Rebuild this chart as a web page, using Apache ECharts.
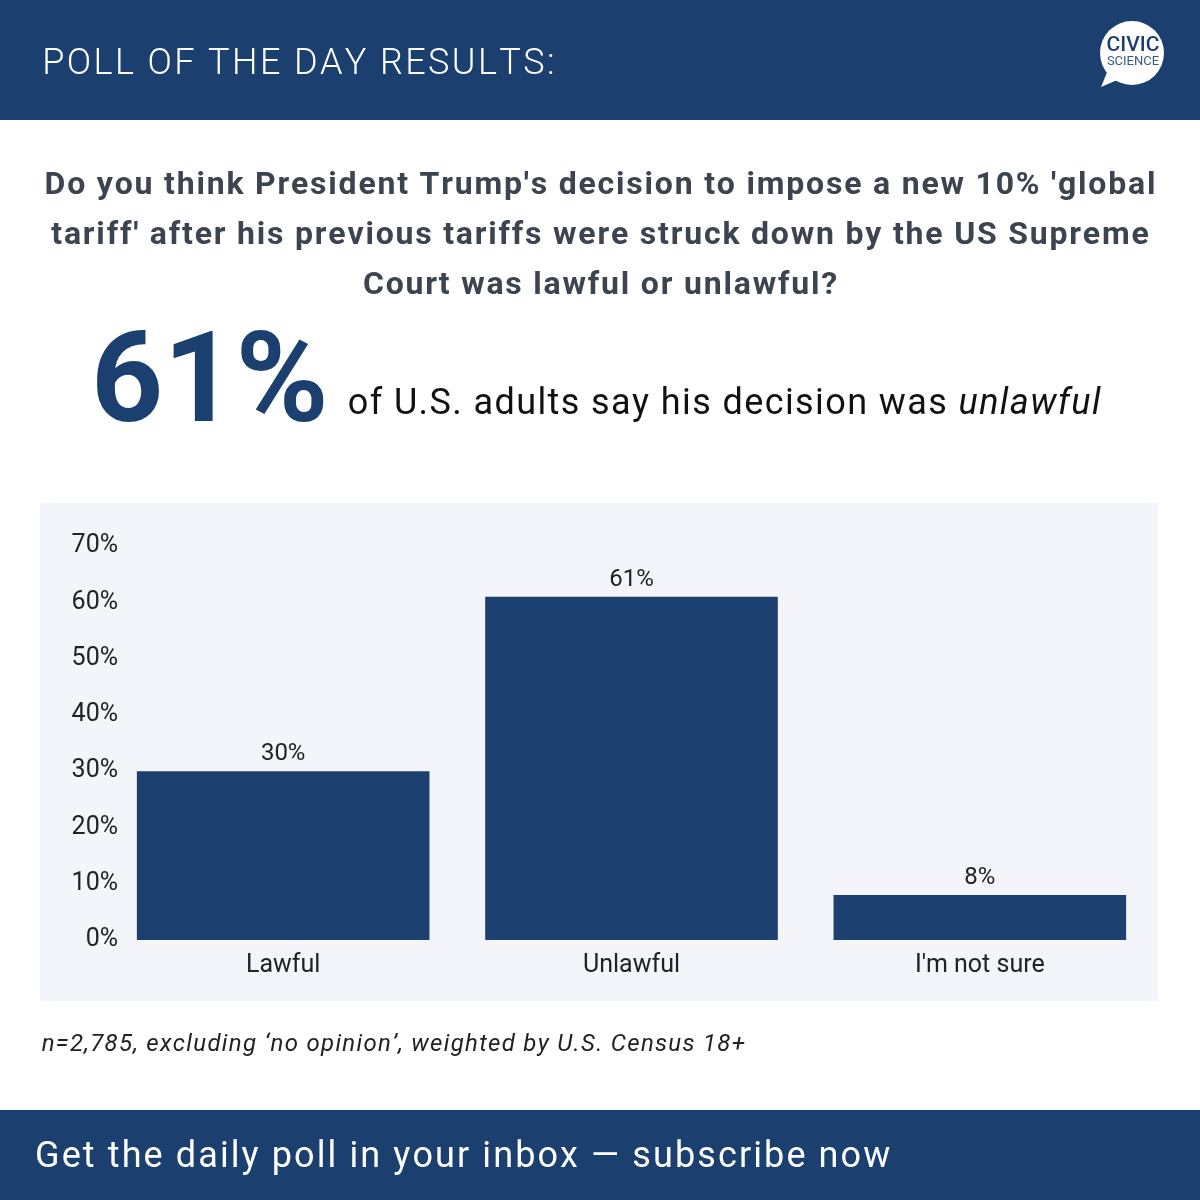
<!DOCTYPE html>
<html><head><meta charset="utf-8">
<script src="https://cdn.jsdelivr.net/npm/echarts@6/dist/echarts.min.js"></script>
<style>html,body{margin:0;padding:0;background:#fff}#c{width:1200px;height:1200px}</style>
</head><body><div id="c"></div>
<script>
const categories = ['Lawful', 'Unlawful', "I'm not sure"];
const values = [30, 61, 8];
const yTicks = [0, 10, 20, 30, 40, 50, 60, 70];
const headerTitle = 'POLL OF THE DAY RESULTS:';
const questionLines = [
  "Do you think President Trump's decision to impose a new 10% 'global",
  "tariff' after his previous tariffs were struck down by the US Supreme",
  "Court was lawful or unlawful?"
];
const headlineValue = '61%';
const headlineText = 'of U.S. adults say his decision was ';
const headlineItalic = 'unlawful';
const footnote = 'n=2,785, excluding \u2018no opinion\u2019, weighted by U.S. Census 18+';
const footerText = 'Get the daily poll in your inbox \u2014 subscribe now';

const NAVY = '#1b3f6e';
const FF = 'Roboto, "Noto Sans", sans-serif';
const F = FF;
const chart = echarts.init(document.getElementById('c'), null, {renderer: 'canvas'});

// letter-spaced text via rich tokens
function spaced(segments) {
  let s = '';
  segments.forEach(([t, name]) => { for (const ch of t) s += '{' + name + '|' + ch + '}'; });
  return s;
}
function rs(size, weight, style, color, gap) {
  return {fontSize:size, fontWeight:weight, fontStyle:style, fontFamily:FF, fill:color, color:color, padding:[0, gap/2, 0, gap/2]};
}

const graphics = [
  {type:'rect', z:-10, shape:{x:0,y:0,width:1200,height:120}, style:{fill:NAVY}},
  {type:'text', style:{text:spaced([[headerTitle,'a']]), x:41, y:65, fill:'#fff', textVerticalAlign:'middle',
    rich:{a:rs(36, 300, 'normal', '#fff', 2.4)}}},
  // logo
  {type:'polygon', shape:{points:[[1108,70],[1101,87],[1122,78]]}, style:{fill:'#fff'}},
  {type:'circle', shape:{cx:1132, cy:53, r:32}, style:{fill:'#fff'}},
  {type:'text', style:{text:'CIVIC', x:1133, y:46, font:'500 21px ' + F, fill:NAVY, textAlign:'center', textVerticalAlign:'middle'}},
  {type:'text', style:{text:'SCIENCE', x:1133, y:62, font:'13px ' + F, fill:'#3a5a87', textAlign:'center', textVerticalAlign:'middle'}},
  // chart panel
  {type:'rect', z:-10, shape:{x:40,y:503,width:1118,height:498}, style:{fill:'#f4f5fa'}},
  // headline
  {type:'text', style:{text:headlineValue, x:91, y:389, font:'bold 126px ' + F, fill:NAVY, textVerticalAlign:'middle'}},
  {type:'text', style:{text:spaced([[headlineText,'n'],[headlineItalic,'i']]), x:347, y:405, textVerticalAlign:'middle',
    rich:{n:rs(36, 'normal', 'normal', '#111', 1.4), i:rs(36, 'normal', 'italic', '#111', 1.4)}}},
  // footnote
  {type:'text', style:{text:spaced([[footnote,'f']]), x:41, y:1045, textVerticalAlign:'middle',
    rich:{f:rs(24, 'normal', 'italic', '#222', 1.3)}}},
  // footer
  {type:'rect', z:-10, shape:{x:0,y:1110,width:1200,height:90}, style:{fill:NAVY}},
  {type:'text', style:{text:spaced([[footerText,'g']]), x:34, y:1158, textVerticalAlign:'middle',
    rich:{g:rs(36, 'normal', 'normal', '#fff', 2.1)}}}
];
questionLines.forEach((t, i) => {
  graphics.push({type:'text', style:{text:spaced([[t,'q']]), x:600, y:186 + i*50, textAlign:'center', textVerticalAlign:'middle',
    rich:{q:rs(32, 'bold', 'normal', '#3c4450', 1.8)}}});
});

chart.setOption({
  animation:false,
  grid:{left:109, right:46, top:546, bottom:260, containLabel:false},
  xAxis:{type:'category', data:categories,
    axisLine:{show:false}, axisTick:{show:false},
    axisLabel:{fontSize:25, color:'#222', fontFamily:F, margin:13}},
  yAxis:{type:'value', min:0, max:70, interval:10,
    splitLine:{show:false}, axisLine:{show:false}, axisTick:{show:false},
    axisLabel:{fontSize:25, color:'#222', fontFamily:F, margin:-9, padding:[4,0,0,0], formatter:v => v + '%'}},
  series:[{type:'bar', data:values, barCategoryGap:'16%', itemStyle:{color:NAVY},
    label:{show:true, position:'top', distance:5, fontSize:24, color:'#222', fontFamily:F, formatter:p => p.value + '%'}}],
  graphic:graphics
});
</script></body></html>
